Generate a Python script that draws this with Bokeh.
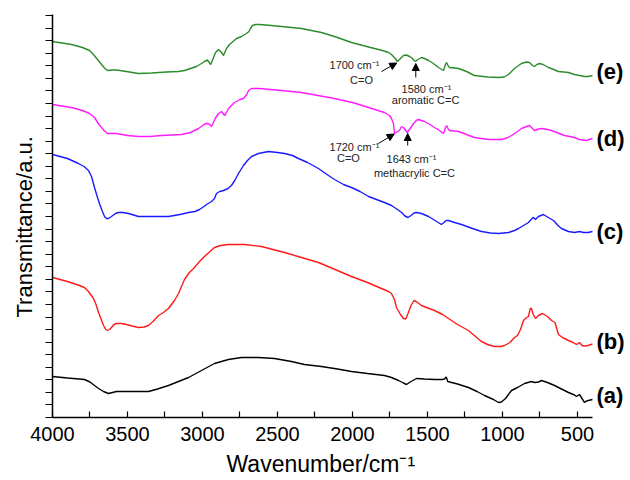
from bokeh.plotting import figure
from bokeh.models import Range1d, FixedTicker, CustomJSTickFormatter, Arrow, NormalHead, Title
from bokeh.embed import file_html
from bokeh.resources import INLINE
from bokeh.core.properties import value

FONT = "Liberation Sans"

# ---- data (wavenumber in cm^-1, transmittance in arbitrary stacked units) ----
wn_e = [4000, 3873, 3800, 3753, 3727, 3700, 3673, 3650, 3633, 3600, 3573, 3507, 3427, 3340, 3240,
        3160, 3120, 3080, 3040, 3007, 2987, 2967, 2945, 2913, 2893, 2873, 2860, 2840, 2820, 2773,
        2740, 2707, 2690, 2680, 2667, 2645, 2620, 2540, 2473, 2340, 2207, 2100, 2007, 1880, 1800,
        1760, 1740, 1715, 1700, 1680, 1660, 1640, 1620, 1607, 1590, 1580, 1565, 1540, 1520, 1493,
        1460, 1427, 1405, 1393, 1380, 1373, 1360, 1353, 1293, 1240, 1187, 1100, 1027, 990, 960,
        920, 893, 873, 840, 820, 800, 787, 770, 753, 730, 693, 660, 627, 560, 520,
        487, 453, 430, 400]
t_e = [37.6, 37.3, 37.0, 36.7, 36.3, 35.8, 35.3, 34.9, 34.7, 34.75, 34.75, 34.6, 34.4, 34.45, 34.55,
       34.6, 34.7, 34.9, 35.1, 35.4, 35.6, 35.75, 35.3, 36.5, 36.8, 36.5, 36.2, 36.9, 37.3, 37.9,
       38.1, 38.4, 38.6, 38.9, 39.2, 39.3, 39.3, 39.2, 39.1, 38.9, 38.5, 38.0, 37.5, 37.0, 36.7,
       36.5, 36.3, 35.9, 35.6, 35.9, 36.2, 36.25, 36.1, 36.0, 35.7, 35.6, 35.8, 36.0, 35.9, 35.7,
       35.4, 35.0, 34.8, 34.7, 35.3, 35.5, 35.1, 35.0, 34.9, 34.6, 34.2, 34.05, 34.0, 34.05, 34.3,
       34.9, 35.2, 35.4, 35.55, 35.5, 35.2, 35.1, 35.3, 35.4, 35.3, 35.0, 34.8, 34.6, 34.5, 34.3,
       34.2, 34.1, 34.1, 34.2]

wn_d = [4000, 3873, 3800, 3753, 3720, 3690, 3673, 3650, 3633, 3600, 3573, 3500, 3427, 3350, 3273,
        3140, 3080, 3027, 2990, 2973, 2955, 2940, 2915, 2893, 2873, 2853, 2840, 2827, 2787, 2750,
        2727, 2705, 2693, 2673, 2620, 2473, 2340, 2230, 2120, 2000, 1893, 1787, 1765, 1753, 1740,
        1727, 1720, 1705, 1687, 1673, 1660, 1635, 1615, 1593, 1575, 1560, 1520, 1490, 1453, 1420,
        1393, 1380, 1373, 1360, 1353, 1293, 1240, 1187, 1093, 1007, 970, 940, 900, 873, 840,
        820, 800, 787, 760, 740, 700, 673, 630, 587, 520, 487, 440, 400]
t_d = [31.3, 31.0, 30.7, 30.4, 30.0, 29.3, 29.0, 28.6, 28.4, 28.4, 28.4, 28.2, 28.1, 28.1, 28.2,
       28.3, 28.5, 28.9, 29.3, 29.4, 29.35, 29.1, 29.9, 30.4, 30.6, 30.2, 30.5, 30.9, 31.5, 31.8,
       31.9, 32.3, 32.7, 32.9, 32.9, 32.7, 32.5, 32.2, 31.9, 31.5, 31.0, 30.5, 30.3, 30.2, 29.9,
       29.4, 28.4, 28.55, 28.7, 29.1, 29.0, 28.5, 28.9, 29.4, 29.7, 29.8, 29.6, 29.35, 29.0, 28.7,
       28.4, 29.0, 29.2, 28.8, 28.7, 28.6, 28.3, 28.0, 27.8, 27.8, 27.95, 28.2, 28.6, 28.9, 29.1,
       29.2, 28.9, 28.7, 28.85, 28.9, 28.8, 28.7, 28.45, 28.2, 28.0, 27.8, 27.7, 27.9]

wn_c = [4000, 3900, 3827, 3790, 3760, 3740, 3720, 3700, 3687, 3670, 3653, 3640, 3627, 3607, 3580,
        3560, 3530, 3493, 3427, 3340, 3227, 3150, 3093, 3050, 3020, 2990, 2973, 2940, 2920, 2907,
        2885, 2860, 2830, 2807, 2785, 2760, 2727, 2700, 2673, 2627, 2560, 2500, 2453, 2400, 2360,
        2300, 2227, 2170, 2120, 2060, 2007, 1950, 1893, 1840, 1787, 1740, 1700, 1673, 1650, 1630,
        1610, 1590, 1573, 1540, 1493, 1450, 1407, 1390, 1375, 1360, 1320, 1273, 1200, 1140, 1080,
        1027, 960, 920, 893, 860, 827, 800, 793, 780, 760, 727, 700, 660, 630, 607,
        560, 520, 487, 460, 430, 400]
t_c = [26.3, 25.9, 25.4, 25.1, 24.7, 24.1, 23.0, 22.0, 21.4, 20.7, 20.1, 19.9, 19.9, 20.1, 20.4,
       20.5, 20.5, 20.4, 20.1, 20.1, 20.1, 20.3, 20.5, 20.6, 20.8, 21.1, 21.3, 21.6, 21.9, 22.4,
       22.6, 22.7, 22.9, 23.2, 23.7, 24.4, 25.2, 25.7, 26.1, 26.4, 26.6, 26.5, 26.4, 26.2, 25.9,
       25.5, 24.9, 24.3, 23.8, 23.3, 23.0, 22.6, 22.1, 21.8, 21.5, 21.2, 20.8, 20.5, 20.15, 20.0,
       20.2, 20.45, 20.5, 20.4, 20.1, 19.7, 19.3, 19.5, 19.7, 19.7, 19.5, 19.3, 18.9, 18.6, 18.45,
       18.4, 18.5, 18.7, 18.9, 19.2, 19.5, 19.95, 20.0, 19.8, 20.1, 20.3, 20.05, 19.7, 19.2, 18.9,
       18.6, 18.5, 18.6, 18.5, 18.5, 18.6]

wn_b = [4000, 3900, 3820, 3787, 3760, 3727, 3710, 3693, 3675, 3660, 3645, 3633, 3620, 3607, 3590,
        3573, 3540, 3520, 3470, 3427, 3390, 3360, 3330, 3293, 3260, 3227, 3187, 3160, 3140, 3120,
        3087, 3053, 3020, 2987, 2950, 2920, 2880, 2827, 2720, 2607, 2530, 2453, 2340, 2227, 2100,
        2007, 1900, 1807, 1760, 1740, 1720, 1707, 1680, 1660, 1645, 1630, 1610, 1590, 1575, 1540,
        1507, 1453, 1400, 1360, 1300, 1227, 1180, 1140, 1100, 1053, 1010, 987, 950, 920, 900,
        880, 860, 840, 827, 815, 807, 795, 780, 760, 733, 700, 673, 650, 627, 600,
        560, 530, 507, 487, 470, 453, 430, 400]
t_b = [14.0, 13.6, 13.2, 13.0, 12.6, 11.9, 11.3, 10.5, 9.8, 9.2, 8.8, 8.7, 8.8, 9.0, 9.3,
       9.4, 9.4, 9.35, 9.15, 9.0, 9.05, 9.2, 9.6, 10.2, 10.5, 10.9, 11.7, 12.4, 13.1, 13.8,
       14.5, 15.0, 15.6, 16.1, 16.6, 17.0, 17.2, 17.3, 17.3, 17.1, 16.8, 16.5, 16.0, 15.5, 14.7,
       14.1, 13.5, 12.9, 12.6, 12.4, 11.8, 11.0, 10.3, 9.9, 9.85, 10.4, 11.2, 11.7, 11.6, 11.2,
       11.0, 10.7, 10.3, 9.9, 9.3, 8.7, 8.1, 7.6, 7.3, 7.1, 7.1, 7.2, 7.5, 8.0, 8.2,
       8.8, 9.7, 10.0, 10.1, 10.9, 10.9, 10.3, 9.9, 10.2, 10.4, 10.1, 9.7, 9.5, 8.3, 8.0,
       7.7, 7.5, 7.3, 7.5, 7.2, 7.15, 7.2, 7.35]

wn_a = [4000, 3900, 3787, 3750, 3720, 3693, 3660, 3627, 3600, 3573, 3500, 3360, 3300, 3227, 3160,
        3093, 3007, 2920, 2827, 2740, 2627, 2520, 2407, 2320, 2207, 2100, 2007, 1900, 1787, 1740,
        1693, 1660, 1640, 1610, 1573, 1520, 1453, 1400, 1387, 1375, 1365, 1300, 1227, 1170, 1120,
        1060, 1027, 1007, 980, 940, 900, 853, 807, 785, 760, 740, 700, 653, 600, 560,
        520, 507, 487, 470, 453, 440, 427, 400]
t_a = [4.1, 3.95, 3.8, 3.55, 3.2, 2.9, 2.6, 2.4, 2.5, 2.6, 2.6, 2.6, 2.85, 3.2, 3.6,
       4.0, 4.7, 5.4, 5.8, 6.0, 6.0, 5.9, 5.6, 5.3, 5.1, 4.85, 4.6, 4.4, 4.2, 4.0,
       3.7, 3.45, 3.3, 3.6, 3.9, 3.85, 3.8, 3.8, 3.85, 4.05, 3.6, 3.35, 3.0, 2.6, 2.2,
       1.8, 1.5, 1.55, 1.9, 2.7, 3.0, 3.4, 3.6, 3.5, 3.55, 3.7, 3.5, 3.2, 2.8, 2.5,
       2.25, 2.1, 2.3, 1.9, 1.5, 1.65, 1.7, 1.8]

series = [
    (wn_a, t_a, "#000000"),
    (wn_b, t_b, "#ff1a1a"),
    (wn_c, t_c, "#1a1aff"),
    (wn_d, t_d, "#ff1aff"),
    (wn_e, t_e, "#2a8c2a"),
]

curve_labels = ["(a)", "(b)", "(c)", "(d)", "(e)"]
curve_label_y = [2.2, 7.6, 18.6, 27.9, 34.6]
curve_label_x = [373, 373, 373, 373, 373]

x_major = [4000, 3500, 3000, 2500, 2000, 1500, 1000, 500]
x_minor = [3750, 3250, 2750, 2250, 1750, 1250, 750]

ann_text = ["1700 cm\u207b\u00b9", "C=O", "1580 cm\u207b\u00b9", "aromatic C=C",
            "1720 cm\u207b\u00b9", "C=O", "1643 cm\u207b\u00b9", "methacrylic C=C"]
ann_x = [1987, 1940, 1507, 1513, 1987, 2027, 1607, 1587]
ann_y = [35.3, 33.8, 32.9, 31.8, 27.1, 26.0, 25.9, 24.5]

# arrows: (x_start, y_start, x_end, y_end)
arrows = [
    (1807, 34.6, 1705, 35.45),
    (1578, 34.0, 1578, 35.4),
    (1827, 27.4, 1722, 28.35),
    (1632, 27.2, 1632, 28.4),
]

p = figure(frame_width=577, frame_height=403,
           min_border_left=51, min_border_right=2, min_border_top=14, min_border_bottom=63,
           x_range=Range1d(4000, 153.3), y_range=Range1d(0, 40.3),
           output_backend="svg", toolbar_location=None)
p.outline_line_color = None
p.grid.visible = False
p.background_fill_color = "white"
p.border_fill_color = "white"

for wn, t, col in series:
    p.line(wn, t, line_color=col, line_width=1.4)

p.text(x=curve_label_x, y=curve_label_y, text=curve_labels,
       text_font=value(FONT), text_font_size="22px", text_font_style="bold",
       text_align="left", text_baseline="middle", text_color="black")

p.text(x=ann_x, y=ann_y, text=ann_text,
       text_font=value(FONT), text_font_size="11px",
       text_align="center", text_baseline="middle", text_color="#222222")

for xs, ys, xe, ye in arrows:
    p.add_layout(Arrow(end=NormalHead(size=7, fill_color="black", line_color="black"),
                       x_start=xs, y_start=ys, x_end=xe, y_end=ye,
                       line_color="black", line_width=1))

# x axis
xa = p.xaxis[0]
xa.bounds = (400, 4000)
xa.ticker = FixedTicker(ticks=x_major, minor_ticks=x_minor)
xa.major_tick_in = 6
xa.major_tick_out = 0
xa.minor_tick_in = 6
xa.minor_tick_out = 0
xa.axis_line_width = 1.5
xa.major_tick_line_width = 1.2
xa.minor_tick_line_width = 1.2
xa.major_label_text_font = FONT
xa.major_label_text_font_size = "20px"
xa.major_label_text_color = "black"
xa.major_label_standoff = 9

# x axis label, centred under the drawn axis (4000..400) rather than the wider frame
p.add_layout(Title(text="Wavenumber/cm\u207b\u00b9", align="left", offset=174,
                   text_font=FONT, text_font_size="23px", text_font_style="normal",
                   text_color="black", standoff=10), "below")

# y axis
ya = p.yaxis[0]
ya.bounds = (0, 40.3)
ya.ticker = FixedTicker(ticks=[k * 1.256 for k in range(33)], minor_ticks=[])
ya.formatter = CustomJSTickFormatter(code="return ''")
ya.major_tick_in = 0
ya.major_tick_out = 7
ya.minor_tick_out = 0
ya.axis_line_width = 1.5
ya.major_tick_line_width = 1.2
ya.major_label_standoff = 0

# y axis label, placed a little below the frame centre as in the original
p.add_layout(Title(text="Transmittance/a.u.", align="left", offset=100,
                   text_font=FONT, text_font_size="22px", text_font_style="normal",
                   text_color="black", standoff=18), "left")

open("out.html", "w").write(file_html(p, INLINE))
